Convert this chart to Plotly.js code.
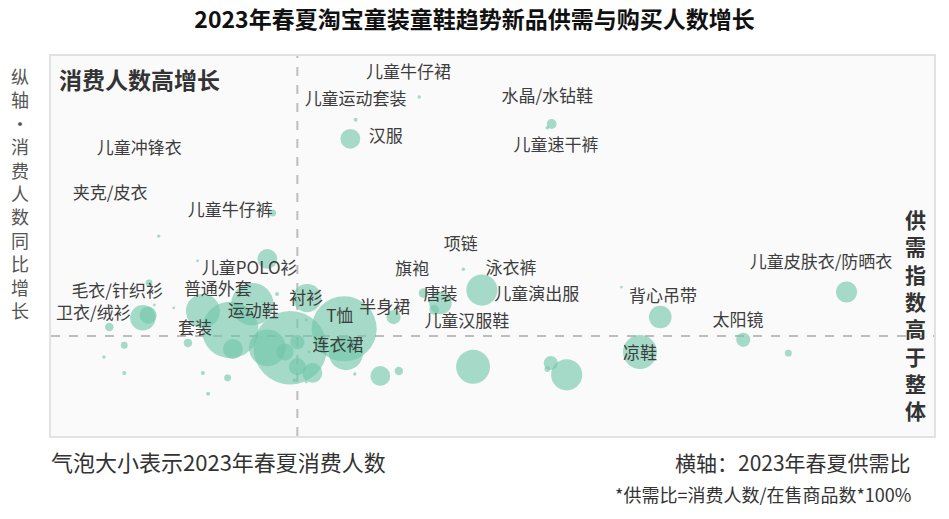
<!DOCTYPE html>
<html>
<head>
<meta charset="utf-8">
<script src="https://cdn.plot.ly/plotly-3.0.1.min.js"></script>
<style>html,body{margin:0;padding:0;background:#fff;}#chart{width:949px;height:519px;}</style>
</head>
<body>
<div id="chart"></div>
<script>
// ---- data (axis units are relative index values) ----
const supplyRatio = [34.5,41.7,33.9,56.7,56.2,46.7,25.1,12.2,24.5,16.6,11.1,10.4,11.0,6.6,8.3,6.0,8.3,13.9,11.7,17.2,15.5,17.2,20.0,17.8,20.3,22.8,20.6,25.6,27.1,24.5,29.0,27.9,26.5,27.9,29.6,29.2,27.6,33.2,33.4,34.4,37.3,39.4,38.8,44.1,42.2,43.4,48.8,47.8,56.6,56.2,58.4,90.1,69.0,78.4,66.7,83.5,64.6,28.9,28.9];
const buyerGrowth = [83.2,89.2,78.2,82.1,81.1,43.9,58.7,52.6,46.6,46.1,40.3,31.1,31.8,28.7,23.9,20.8,16.6,33.7,34.5,32.9,24.5,16.6,15.3,11.1,27.9,34.7,22.9,37.4,23.2,23.2,36.3,24.7,22.1,18.2,16.6,22.1,14.7,28.2,21.8,16.3,15.8,17.1,31.3,35.0,37.6,33.2,38.4,18.2,19.2,17.6,16.1,37.9,31.3,25.3,22.1,21.8,39.2,30.5,14.2];
const buyers = [2,1.5,49,12,1.5,1.5,6,1.5,49,1,6,81,36,9,6,1.5,2,1,1,144,9,2,6,2,400,225,49,2,676,169,100,25,36,36,49,1,2,529,144,1.5,49,9,25,64,12,12,121,144,25,4,121,56,64,25,144,6,1,1,1];
const overallSupply = 27.9;   // 整体供需比 (vertical dashed line)
const overallGrowth = 26.3;   // 整体消费人数增长 (horizontal dashed line)

const labelNames = ['儿童牛仔裙','儿童运动套装','汉服','水晶/水钻鞋','儿童速干裤','儿童冲锋衣','夹克/皮衣','儿童牛仔裤','项链','旗袍','泳衣裤','儿童POLO衫','儿童皮肤衣/防晒衣','毛衣/针织衫','普通外套','唐装','儿童演出服','背心吊带','衬衫','卫衣/绒衫','运动鞋','T恤','半身裙','儿童汉服鞋','太阳镜','套装','连衣裙','凉鞋'];
const labelX = [40.5,34.5,37.9,56.2,57.2,10.0,6.7,20.3,46.4,40.9,52.1,22.5,87.2,7.5,18.9,44.1,55.0,69.3,28.9,4.8,22.9,32.7,37.8,47.1,77.8,16.3,32.5,66.7];
const labelY = [95.3,88.2,78.4,88.9,76.1,75.3,63.4,58.9,50.0,43.4,43.7,43.7,45.3,37.6,38.2,36.8,36.8,36.3,35.8,31.8,32.4,31.1,33.4,29.7,30.0,27.9,23.4,21.3];

const titleText = '2023年春夏淘宝童装童鞋趋势新品供需与购买人数增长';
const quadrantText = '消费人数高增长';
const yAxisText = '纵轴·消费人数同比增长';
const rightText = '供需指数高于整体';
const sizeNote = '气泡大小表示2023年春夏消费人数';
const xAxisText = '横轴：2023年春夏供需比';
const formulaNote = '*供需比=消费人数/在售商品数*100%';

// ---- layout helpers ----
const W = 949, H = 519;
const M = {l: 51, r: 15, t: 56, b: 83};
const pw = W - M.l - M.r, ph = H - M.t - M.b;
const FONT = '"Noto Sans CJK SC", "Noto Sans", sans-serif';
function px(x) { return (x - M.l) / pw; }
function py(y) { return (H - M.b - y) / ph; }

const annotations = [];
function addText(text, x, y, size, color, bold, xanchor) {
  annotations.push({
    text: bold ? '<b>' + text + '</b>' : text,
    xref: 'paper', yref: 'paper', x: px(x), y: py(y),
    xanchor: xanchor || 'center', yanchor: 'middle',
    showarrow: false,
    font: {family: FONT, size: size, color: color}
  });
}

addText(quadrantText, 57, 79, 23, '#333333', true, 'left');
addText(Array.from(yAxisText).join('<br>'), 20, 193, 18, '#555555', false);
addText(Array.from(rightText).join('<br>'), 915, 314, 21, '#333333', true);
addText(sizeNote, 49, 461, 22, '#333333', false, 'left');
addText(xAxisText, 913, 462, 21, '#333333', false, 'right');
addText(formulaNote, 913, 494, 18, '#333333', false, 'right');

const bubbles = {
  type: 'scatter', mode: 'markers',
  x: supplyRatio, y: buyerGrowth,
  marker: {
    size: buyers, sizemode: 'area', sizeref: 0.25, sizemin: 0,
    color: 'rgb(112,198,168)', opacity: 0.62,
    line: {width: 0}
  },
  hoverinfo: 'skip', showlegend: false
};

const labels = {
  type: 'scatter', mode: 'text',
  x: labelX, y: labelY, text: labelNames,
  textposition: 'middle center',
  textfont: {family: FONT, size: 17, color: '#3d3d3d'},
  hoverinfo: 'skip', showlegend: false
};

const layout = {
  width: W, height: H,
  margin: M,
  paper_bgcolor: '#ffffff',
  plot_bgcolor: '#fafafa',
  title: {
    text: '<b>' + titleText + '</b>',
    x: 0.5, xref: 'container', y: 1 - 20 / H, yref: 'container',
    xanchor: 'center', yanchor: 'middle',
    font: {family: FONT, size: 23, color: '#111111'}
  },
  xaxis: {range: [0, 100], showgrid: false, zeroline: false, showticklabels: false, ticks: '',
          showline: true, mirror: true, linecolor: '#e2e2e2', linewidth: 2, fixedrange: true},
  yaxis: {range: [0, 100], showgrid: false, zeroline: false, showticklabels: false, ticks: '',
          showline: true, mirror: true, linecolor: '#e2e2e2', linewidth: 2, fixedrange: true},
  shapes: [
    {type: 'line', xref: 'x', yref: 'paper', x0: overallSupply, x1: overallSupply, y0: 0, y1: 1,
     line: {color: '#bdbdbd', width: 2, dash: 'dash'}, layer: 'below'},
    {type: 'line', xref: 'paper', yref: 'y', x0: 0, x1: 1, y0: overallGrowth, y1: overallGrowth,
     line: {color: '#bdbdbd', width: 2, dash: 'dash'}, layer: 'below'}
  ],
  annotations: annotations
};

Plotly.newPlot('chart', [bubbles, labels], layout, {displayModeBar: false, staticPlot: true});
</script>
</body>
</html>
